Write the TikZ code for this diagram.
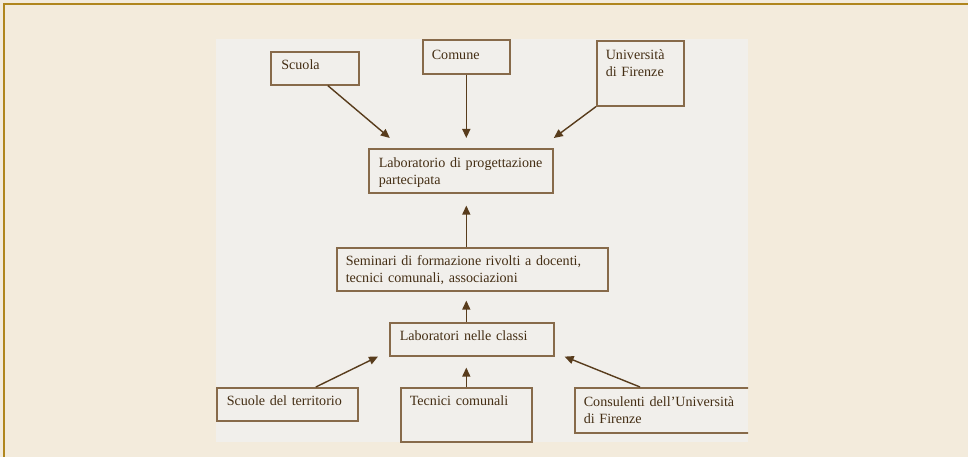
\documentclass[tikz,border=0pt]{standalone}
\usepackage{fontspec}
\setmainfont{Liberation Serif}
\usetikzlibrary{arrows.meta}
\hyphenpenalty=10000
\exhyphenpenalty=10000
\definecolor{pagebg}{RGB}{243,235,220}
\definecolor{panelbg}{RGB}{241,239,235}
\definecolor{frameline}{RGB}{176,134,30}
\definecolor{boxline}{RGB}{135,106,74}
\definecolor{txt}{RGB}{68,46,20}
\definecolor{arrowcol}{RGB}{88,60,28}
\begin{document}
\begin{tikzpicture}[x=1pt,y=-1pt,
  box/.style={draw=boxline, line width=1.6pt, anchor=north west, inner ysep=0pt,
    align=left, font=\fontsize{14.1}{16.3}\selectfont, text=txt},
  arr/.style={draw=arrowcol, line width=1.4pt, -{Triangle[length=9pt,width=8pt]}}]
\fill[pagebg] (0,0) rectangle (968,457);
\useasboundingbox (0,0) rectangle (968,457);
\draw[frameline, line width=1.5pt] (4,457) -- (4,4) -- (968,4);
\fill[panelbg] (216,39) rectangle (748,442);
\begin{scope}
\clip (216,39) rectangle (748,442);
\node[box, text width=67pt, inner xsep=10.5pt, text height=18pt, text depth=15pt] (scuola) at (270,51) {Scuola};
\node[box, text width=69pt, inner xsep=9pt, text height=19.5pt, text depth=14pt] (comune) at (422,39.5) {Comune};
\node[box, text width=69pt, inner xsep=9pt, text height=19pt, text depth=46pt] (univ) at (596,40) {Università\\di Firenze};
\node[box, text width=164pt, inner xsep=10pt, text height=19pt, text depth=25pt] (lab) at (368,148) {Laboratorio di progettazione\\partecipata};
\node[box, text width=253pt, inner xsep=9pt, text height=18pt, text depth=25pt] (sem) at (336,247) {Seminari di formazione rivolti a docenti,\\tecnici comunali, associazioni};
\node[box, text width=144pt, inner xsep=10pt, text height=17.5pt, text depth=15.5pt] (labc) at (389,322) {Laboratori nelle classi};
\node[box, text width=121pt, inner xsep=10pt, text height=18pt, text depth=15pt] (scuole) at (216,387) {Scuole del territorio};
\node[box, text width=113pt, inner xsep=9pt, text height=18pt, text depth=36pt] (tec) at (400,387) {Tecnici comunali};
\node[box, text width=168pt, inner xsep=9pt, text height=19pt, text depth=26pt] (cons) at (574,387) {Consulenti dell’Università\\di Firenze};
\end{scope}
\draw[arr] ([xshift=13pt]scuola.south) -- ([xshift=-71pt,yshift=10pt]lab.north);
\draw[arr] (comune.south) -- ([yshift=10pt]lab.north -| comune.south);
\draw[arr] (univ.south west) -- ([xshift=93pt,yshift=10pt]lab.north);
\draw[arr] (sem.north -| comune.south) -- ([yshift=-12pt]lab.south -| comune.south);
\draw[arr] (labc.north -| comune.south) -- ([yshift=-9pt]sem.south -| comune.south);
\draw[arr] (tec.north -| comune.south) -- ([yshift=-11pt]labc.south -| comune.south);
\draw[arr] ([xshift=28.5pt]scuole.north) -- ([xshift=-11pt]labc.south west);
\draw[arr] ([xshift=66pt]cons.north west) -- ([xshift=10pt]labc.south east);
\end{tikzpicture}
\end{document}
